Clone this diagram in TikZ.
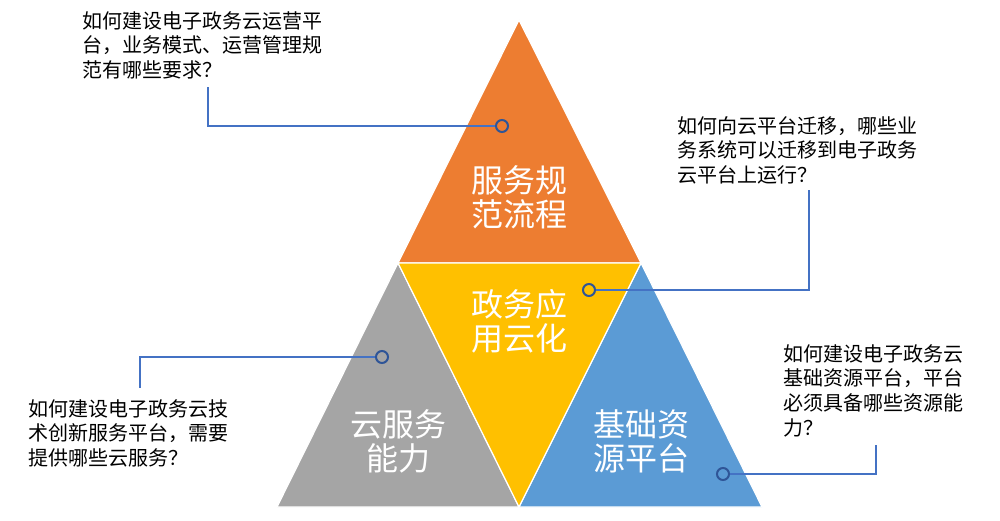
\documentclass[tikz,border=0pt]{standalone}
\usepackage{fontspec}
\setmainfont{Noto Sans CJK SC}
\begin{document}
\begin{tikzpicture}[x=1pt,y=-1pt,
  tri/.style={draw=white,line width=1.2pt,line join=miter},
  lbl/.style={text=white,align=center,font=\fontsize{32}{34}\selectfont,inner sep=0pt},
  qtext/.style={anchor=north west,align=left,font=\fontsize{20}{24.8}\selectfont,inner sep=0pt,text=black},
  dot/.style={circle,draw=dotblue,line width=2pt,minimum size=12pt,inner sep=0pt},
  conn/.style={draw=lineblue,line width=2pt}]
\definecolor{orangeC}{HTML}{ED7D31}
\definecolor{yellowC}{HTML}{FFC000}
\definecolor{greyC}{HTML}{A5A5A5}
\definecolor{blueC}{HTML}{5B9BD5}
\definecolor{lineblue}{HTML}{4472C4}
\definecolor{dotblue}{HTML}{2F5597}
\useasboundingbox (0,0) rectangle (1000,521);
% triangles
\fill[orangeC,tri] (519,20) -- (398,263) -- (641,263) -- cycle;
\fill[greyC,tri] (398,263) -- (277,507) -- (519,507) -- cycle;
\fill[blueC,tri] (641,263) -- (519,507) -- (762,507) -- cycle;
\fill[yellowC,tri] (398,263) -- (641,263) -- (519,507) -- cycle;
% labels
\node[lbl] (l1) at (519,197) {服务规\\范流程};
\node[lbl] (l2) at (519,321) {政务应\\用云化};
\node[lbl] (l3) at (398,441) {云服务\\能力};
\node[lbl] (l4) at (641,441) {基础资\\源平台};
% question texts
\node[qtext] (q1) at (82,11) {如何建设电子政务云运营平\\台，业务模式、运营管理规\\范有哪些要求？};
\node[qtext] (q2) at (677,116) {如何向云平台迁移，哪些业\\务系统可以迁移到电子政务\\云平台上运行？};
\node[qtext] (q3) at (28,399) {如何建设电子政务云技\\术创新服务平台，需要\\提供哪些云服务？};
\node[qtext] (q4) at (783,344) {如何建设电子政务云\\基础资源平台，平台\\必须具备哪些资源能\\力？};
% connectors
\node[dot] (d1) at (502,126) {};
\node[dot] (d2) at (589,290) {};
\node[dot] (d3) at (382,357) {};
\node[dot] (d4) at (723,474) {};
\coordinate (e1) at (208,87);
\coordinate (e2) at (809,190);
\coordinate (e3) at (140,388);
\coordinate (e4) at (876,445);
\draw[conn] (d1.west) -- (e1 |- d1) -- (e1);
\draw[conn] (d2.east) -- (e2 |- d2) -- (e2);
\draw[conn] (d3.west) -- (e3 |- d3) -- (e3);
\draw[conn] (d4.east) -- (e4 |- d4) -- (e4);
\end{tikzpicture}
\end{document}
